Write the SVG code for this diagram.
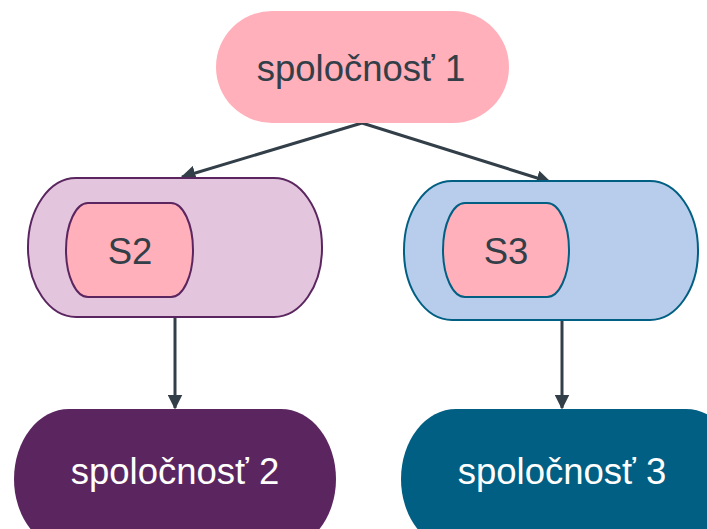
<svg xmlns="http://www.w3.org/2000/svg" width="707" height="529" viewBox="0 0 707 529">
<style>
text{font-family:"Liberation Sans",Arial,sans-serif;font-size:36.5px;text-anchor:middle}
.dark{fill:#333f48}
.light{fill:#ffffff}
.conn{stroke:#333f48;stroke-width:3;fill:none}
</style>
<defs>
<marker id="ah" viewBox="0 0 10 10" refX="9" refY="5" markerWidth="5" markerHeight="5" markerUnits="strokeWidth" orient="auto">
<path d="M0,0 L10,5 L0,10 z" fill="#333f48"/>
</marker>
</defs>
<rect width="707" height="529" fill="#ffffff"/>
<g id="connectors">
<line class="conn" x1="362" y1="123" x2="182" y2="177" marker-end="url(#ah)"/>
<line class="conn" x1="362" y1="123" x2="550" y2="182" marker-end="url(#ah)"/>
<line class="conn" x1="175" y1="317" x2="175" y2="408" marker-end="url(#ah)"/>
<line class="conn" x1="562" y1="318" x2="562" y2="408" marker-end="url(#ah)"/>
</g>
<g id="n1">
<rect x="216" y="11" width="293" height="112" rx="56" ry="56" fill="#ffb0ba"/>
<text class="dark" x="361" y="81">spoločnosť 1</text>
</g>
<g id="n2">
<rect x="28" y="178" width="294" height="139" rx="48" ry="69" fill="#e3c6dd" stroke="#5b2660" stroke-width="2"/>
<g id="s2">
<rect x="66" y="203" width="127" height="94" rx="22" ry="47" fill="#ffb0ba" stroke="#5b2660" stroke-width="2"/>
<text class="dark" x="130" y="264">S2</text>
</g>
</g>
<g id="n3">
<rect x="404" y="181" width="294" height="139" rx="48" ry="69" fill="#b8cdeb" stroke="#005f83" stroke-width="2"/>
<g id="s3">
<rect x="443" y="203" width="126" height="94" rx="22" ry="47" fill="#ffb0ba" stroke="#005f83" stroke-width="2"/>
<text class="dark" x="506" y="264">S3</text>
</g>
</g>
<g id="n4">
<rect x="14" y="409" width="322" height="140" rx="55" ry="70" fill="#5b2660"/>
<text class="light" x="175" y="484">spoločnosť 2</text>
</g>
<g id="n5">
<rect x="401" y="409" width="340" height="140" rx="55" ry="70" fill="#005f83"/>
<text class="light" x="562" y="484">spoločnosť 3</text>
</g>
</svg>
